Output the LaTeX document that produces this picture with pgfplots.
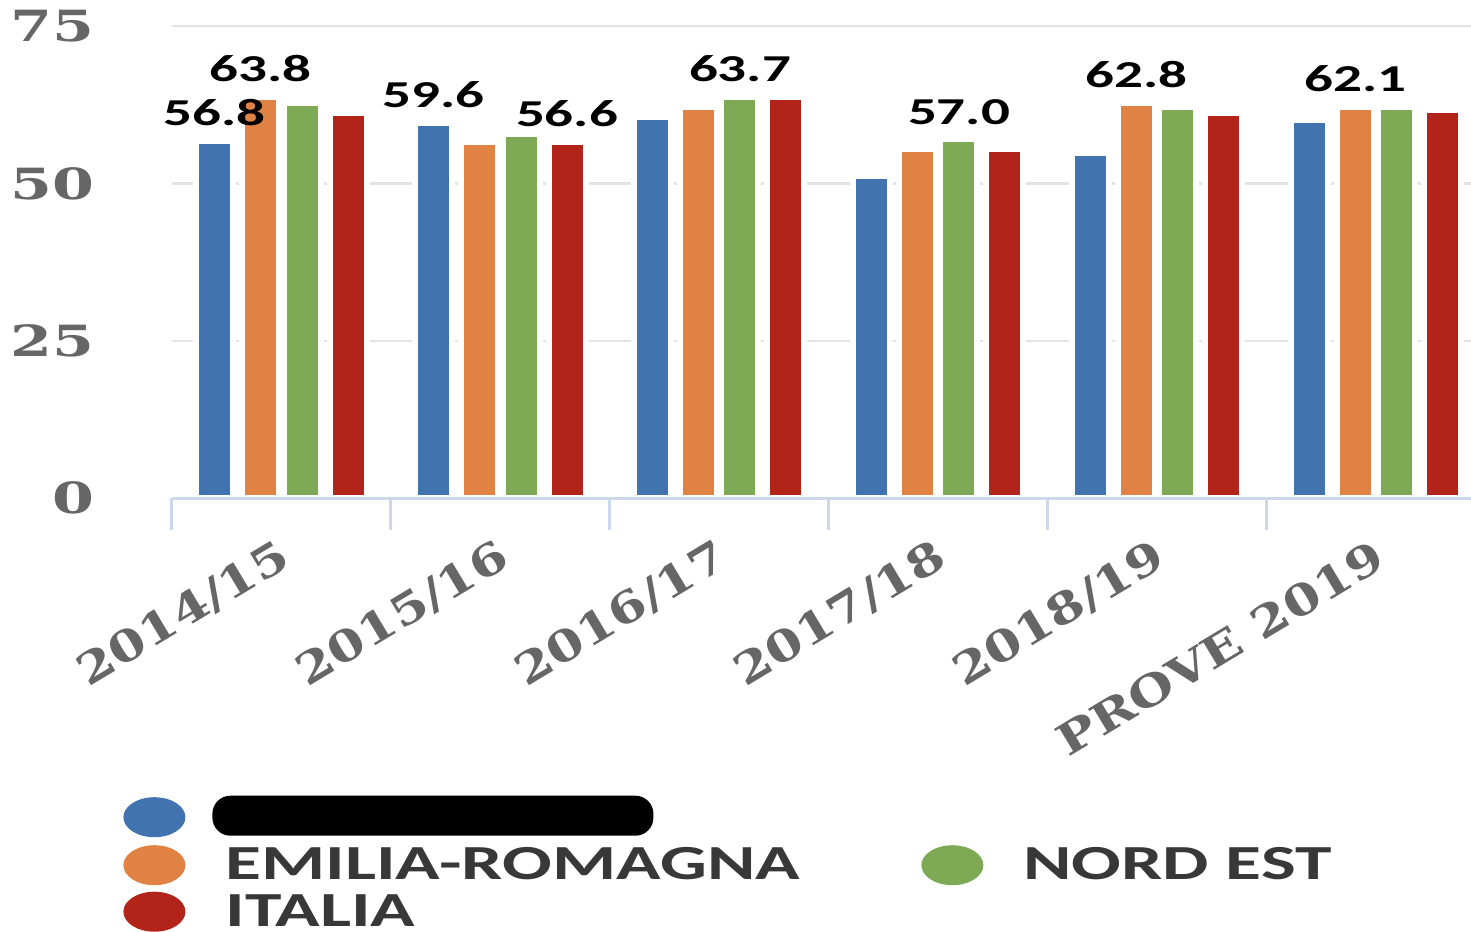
\documentclass[border=0pt]{standalone}
\usepackage{fontspec}
\usepackage{pgfplots}
\pgfplotsset{compat=1.18}
\newfontfamily\tickfont{DejaVu Serif}[FakeStretch=1.22]
\newfontfamily\ytickfont{DejaVu Serif}[FakeStretch=1.4]
\newfontfamily\lblfont{Carlito}[FakeStretch=1.5]
\definecolor{cBlue}{HTML}{4173AF}
\definecolor{cOrange}{HTML}{E08244}
\definecolor{cGreen}{HTML}{7FAA55}
\definecolor{cRed}{HTML}{B22319}
\definecolor{axiscol}{HTML}{CED8EB}
\definecolor{gridcol}{HTML}{E3E3E3}
\definecolor{tickcol}{HTML}{666666}
\definecolor{legcol}{HTML}{383838}
\begin{document}
\begin{tikzpicture}
\begin{axis}[
  scale only axis, width=649.5pt, height=236.15pt,
  xmin=-0.5, xmax=5.4326, ymin=0, ymax=75,
  xtick={0,1,2,3,4,5},
  xticklabels={2014/15,2015/16,2016/17,2017/18,2018/19,PROVE 2019},
  ytick={0,25,50,75}, yticklabels={0,25,50,75},
  xtick pos=bottom, ytick pos=left,
  major tick length=0pt,
  tick align=outside,
  extra x ticks={-0.5,0.5,1.5,2.5,3.5,4.5},
  extra x tick labels={},
  extra x tick style={major tick length=16pt, major tick style={draw=axiscol, line width=1.5pt}},
  ymajorgrids, grid style={draw=gridcol, line width=1.2pt},
  axis line style={draw=none},
  xticklabel style={font=\tickfont\bfseries\fontsize{21.5}{24}\selectfont, text=tickcol, anchor=east, inner sep=0pt, yshift=-27pt, xshift=2pt, rotate=31},
  yticklabel style={font=\ytickfont\bfseries\fontsize{21.5}{24}\selectfont, text=tickcol, anchor=east, inner sep=0pt, xshift=-38.5pt},
  /pgf/number format/assume math mode=true,
  point meta=explicit symbolic,
  nodes near coords,
  every node near coord/.append style={font=\lblfont\bfseries\fontsize{19}{22}\selectfont, text=black, anchor=south, inner sep=0pt, yshift=6pt},
  legend image code/.code={\fill[#1, draw=none] (15.5pt,0pt) ellipse [x radius=15.5pt, y radius=10pt];},
  legend columns=2,
  legend cell align=left,
  legend style={at={(0,0)}, anchor=north west, xshift=-24.5pt, yshift=-148.5pt, draw=none, fill=none, inner sep=0pt, row sep=3.25pt, nodes={inner sep=0pt, outer sep=0pt}, font=\lblfont\bfseries\fontsize{24.5}{28}\selectfont, text=legcol, /tikz/every odd column/.style={column sep=20pt}, /tikz/every even column/.style={column sep=0pt}},
  after end axis/.code={\draw[axiscol, line width=1.5pt] (rel axis cs:0,0) -- (rel axis cs:1,0);},
]
\addplot[ybar, bar width=0.169, bar shift=-0.094, fill=cOrange, draw=white, line width=3pt, forget plot, every node near coord/.append style={xshift=-10.29pt}] coordinates {(0,63.8)[63.8] (1,56.6)[] (2,62.2)[] (3,55.4)[] (4,62.8)[62.8] (5,62.1)[62.1]};
\addplot[ybar, bar width=0.169, bar shift=0.094, fill=cGreen, draw=white, line width=3pt, forget plot, every node near coord/.append style={xshift=10.29pt}] coordinates {(0,62.7)[] (1,57.9)[] (2,63.7)[63.7] (3,57.0)[57.0] (4,62.2)[] (5,62.1)[]};
\addplot[ybar, bar width=0.169, bar shift=0.304, fill=cRed, draw=white, line width=3pt, forget plot, every node near coord/.append style={xshift=33.28pt}] coordinates {(0,61.2)[] (1,56.6)[56.6] (2,63.7)[] (3,55.4)[] (4,61.2)[] (5,61.6)[]};
\addplot[ybar, bar width=0.169, bar shift=-0.304, fill=cBlue, draw=white, line width=3pt, forget plot, every node near coord/.append style={xshift=-33.28pt}] coordinates {(0,56.8)[56.8] (1,59.6)[59.6] (2,60.6)[] (3,51.2)[] (4,54.8)[] (5,60.0)[]};
\addlegendimage{fill=cBlue}
\addlegendentry{\makebox[348pt][l]{\hspace*{-6.5pt}\tikz\fill[black, rounded corners=9pt] (0pt,0pt) rectangle (220.5pt,20pt);}}
\addlegendimage{empty legend}
\addlegendentry{}
\addlegendimage{fill=cOrange}
\addlegendentry{\makebox[348pt][l]{EMILIA-ROMAGNA}}
\addlegendimage{fill=cGreen}
\addlegendentry{NORD EST}
\addlegendimage{fill=cRed}
\addlegendentry{\makebox[348pt][l]{ITALIA}}
\end{axis}
\pgfresetboundingbox
\path (current axis.south west) ++(-86pt,-216.35pt) rectangle ++(735.5pt,465.5pt);
\end{tikzpicture}
\end{document}
